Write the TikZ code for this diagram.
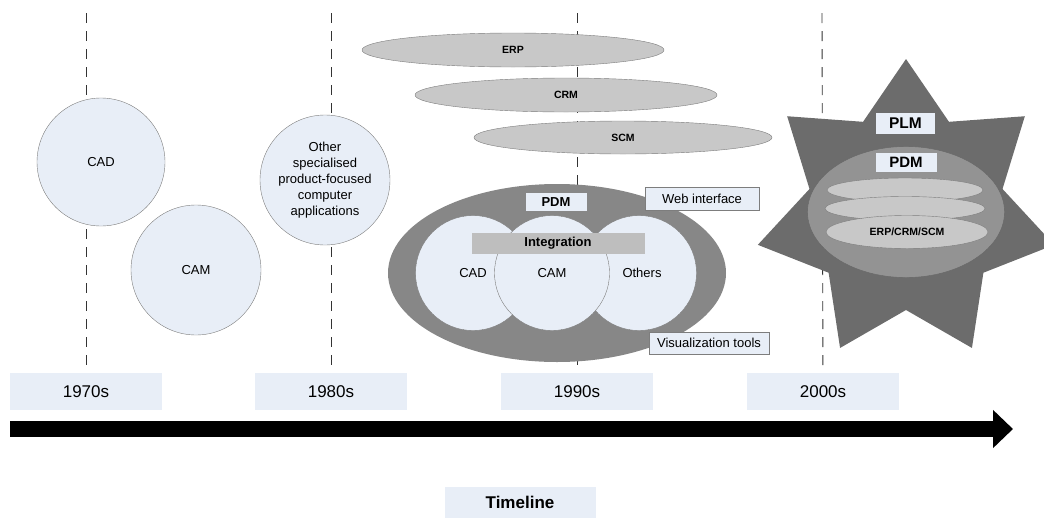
\documentclass[tikz,border=0pt]{standalone}
\usepackage{fontspec}
\setmainfont{Liberation Sans}
\usetikzlibrary{shapes.geometric,arrows.meta}
\definecolor{paleblue}{RGB}{232,238,247}
\definecolor{darkgrey}{RGB}{108,108,108}
\definecolor{midgrey}{RGB}{135,135,135}
\definecolor{lightgrey}{RGB}{200,200,200}
\definecolor{edgegrey}{RGB}{125,125,125}

\begin{document}
\begin{tikzpicture}[x=1pt,y=-1pt,
  yearbox/.style={fill=paleblue,minimum width=152pt,minimum height=37pt,font=\fontsize{17}{20}\selectfont},
  app/.style={circle,draw=edgegrey,fill=paleblue,inner sep=0pt,minimum size=#1,align=center,font=\fontsize{13}{16}\selectfont},
  sysell/.style={ellipse,draw=edgegrey,fill=lightgrey,inner sep=0pt,font=\fontsize{10.5}{12}\bfseries\selectfont},
  tag/.style={fill=paleblue,inner sep=0pt,font=\fontsize{13}{15}\bfseries\selectfont},
  infobox/.style={draw=edgegrey,fill=paleblue,inner sep=0pt,font=\fontsize{13}{15}\selectfont},
  eraline/.style={black!80,line width=0.9pt,dash pattern=on 10pt off 8pt}]
\useasboundingbox (0,0) rectangle (1044,517);
\clip (0,0) rectangle (1044,517);

% decades
\node[yearbox] (y70) at (86,391.5) {1970s};
\node[yearbox] (y80) at (331,391.5) {1980s};
\node[yearbox] (y90) at (577,391.5) {1990s};
\node[yearbox] (y00) at (823,391.5) {2000s};
\coordinate (t70) at (86,13);
\coordinate (t80) at (331,13);
\coordinate (t90) at (577,13);
\coordinate (t00) at (822,13);
\draw[eraline] (t70) -- (y70);
\draw[eraline] (t80) -- (y80);
\draw[eraline] (t90) -- (y90);
\draw[eraline] (t00) -- (y00);

% 1970s
\node[app=128pt] (cad70) at (101,162) {CAD};
\node[app=130pt] (cam70) at (196,270) {CAM};

% 1980s
\node[app=130pt] (other80) at (325,180) {Other\\specialised\\product-focused\\computer\\applications};

% 1990s
\node[sysell,minimum width=302pt,minimum height=34pt] (erp) at (513,50) {ERP};
\node[sysell,minimum width=302pt,minimum height=34pt] (crm) at (566,95) {CRM};
\node[sysell,minimum width=298pt,minimum height=33pt] (scm) at (623,137.5) {SCM};
\node[ellipse,fill=midgrey,minimum width=338pt,minimum height=178pt] (pdm90) at (557,273) {};
\node[app=115pt] (cad90) at (473,273) {CAD};
\node[app=115pt] (oth90) at (639,273) {\hspace{6pt}Others};
\node[app=115pt] (cam90) at (552,273) {CAM};
\node[fill=lightgrey!95!black,minimum width=173pt,minimum height=21pt,inner sep=0pt,font=\fontsize{13}{15}\bfseries\selectfont] (integ) at (558,243.5) {Integration};
\node[tag,minimum width=61pt,minimum height=18pt] (pdmtag90) at (556,202) {PDM};
\node[infobox,minimum width=114pt,minimum height=23pt] (web) at (702,198.5) {Web interface};
\node[infobox,minimum width=120pt,minimum height=22pt] (vis) at (709,343) {Visualization tools};

% 2000s
\fill[darkgrey] plot[samples at={0,...,13}]
  ({906+(125.5+26.5*cos(\x*180))*cos(90+\x*360/14)},
   {211-(125.5+26.5*cos(\x*180))*sin(90+\x*360/14)}) -- cycle;
\node[ellipse,draw=black!60,fill=midgrey!90!white,minimum width=197pt,minimum height=131pt] (pdm00) at (906,212) {};
\node[sysell,minimum width=156pt,minimum height=24pt] (e1) at (905,190) {};
\node[sysell,minimum width=160pt,minimum height=24pt] (e2) at (905,208.5) {};
\node[sysell,minimum width=162pt,minimum height=33pt] (e3) at (907,232) {ERP/CRM/SCM};
\node[tag,minimum width=59pt,minimum height=21pt,font=\fontsize{15.5}{17}\bfseries\selectfont] (plm) at (905.5,123.5) {PLM};
\node[tag,minimum width=61pt,minimum height=19pt,font=\fontsize{15}{17}\bfseries\selectfont] (pdmtag00) at (906,162.5) {PDM};

% timeline
\coordinate (tl0) at (10,429);
\coordinate (tl1) at (1013,429);
\draw[line width=16pt,-{Triangle[width=37pt,length=20pt]}] (tl0) -- (tl1);
\node[fill=paleblue,minimum width=151pt,minimum height=31pt,font=\fontsize{17}{20}\bfseries\selectfont] (tline) at (520,502) {Timeline};
\end{tikzpicture}
\end{document}
